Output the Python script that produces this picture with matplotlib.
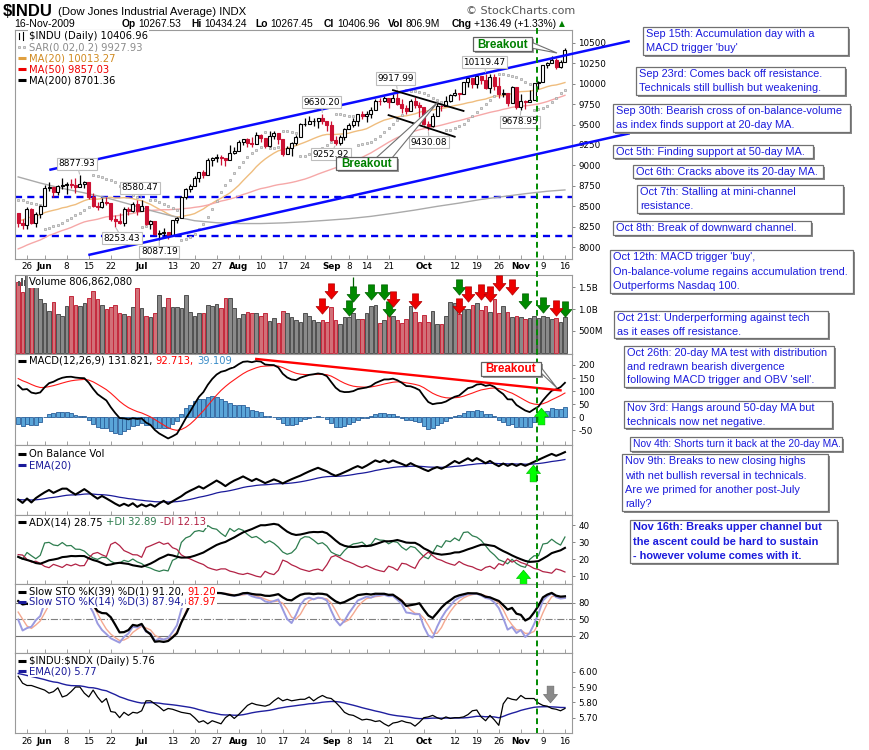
import numpy as np
import pandas as pd
import matplotlib
matplotlib.use("Agg")
import matplotlib.pyplot as plt
from matplotlib.path import Path
from matplotlib.patches import Rectangle, Polygon
from matplotlib.lines import Line2D
from matplotlib import transforms as mtransforms

# ------------------------------------------------------------------ data
holidays = ["2009-05-25", "2009-07-03", "2009-09-07"]

# closes of the sessions before the visible window (feed the moving averages / MACD)
prior_closes = [7170, 7224, 7216, 7395, 7486, 7400, 7278, 7776, 7660, 7749, 7924, 7776, 7522, 7609,
                7761, 7978, 8018, 7975, 7789, 7837, 8083, 8058, 7920, 8029, 8125, 8131, 7842, 7969,
                7887, 7957, 8076, 8025, 8016, 8185, 8168,
                8212, 8426, 8410, 8512, 8409, 8575, 8418, 8469, 8284, 8331, 8268, 8504, 8474, 8422]

opens = [8422, 8293, 8277, 8473, 8300, 8403,
         8500, 8721, 8741, 8675, 8750, 8764, 8764, 8763, 8739, 8770, 8799, 8612, 8504, 8497, 8555, 8539, 8340, 8323, 8299, 8472, 8438, 8529,
         8447, 8504, 8280, 8324, 8163, 8178, 8183, 8146, 8331, 8359, 8616, 8711, 8743, 8848, 8915, 8882, 9069, 9093, 9108, 9096, 9070, 9154,
         9171, 9286, 9320, 9280, 9256, 9370, 9338, 9241, 9362, 9398, 9321, 9135, 9217, 9279, 9350, 9505, 9509, 9540, 9543, 9580, 9544,
         9496, 9310, 9280, 9344, 9441, 9497, 9547, 9627, 9605, 9626, 9683, 9791, 9784, 9820, 9778, 9829, 9748, 9707, 9665, 9789, 9742,
         9712, 9509, 9487, 9599, 9731, 9725, 9786, 9865, 9885, 9871, 10015, 10063, 9996, 10092, 10041, 9949, 10081, 9972, 9868, 9882, 9762, 9962,
         9713, 9789, 9772, 9802, 10005, 10023, 10227, 10247, 10292, 10197, 10267.53]

highs = [8425, 8346, 8495, 8483, 8437, 8518,
         8757, 8800, 8741, 8766, 8847, 8795, 8830, 8843, 8877.93, 8808, 8799, 8660, 8548, 8599, 8614, 8539, 8391, 8420, 8494, 8497, 8550, 8577,
         8580.47, 8504, 8332, 8324, 8208, 8237, 8183, 8336, 8374, 8624, 8720, 8770, 8866, 8920, 8946, 9096, 9109, 9134, 9133, 9096, 9246, 9228,
         9310, 9320, 9341, 9350, 9414, 9386, 9338, 9417, 9421, 9398, 9321, 9235, 9292, 9370, 9520, 9580, 9608, 9580, 9581, 9630.20, 9544,
         9543, 9358, 9368, 9459, 9523, 9580, 9628, 9670, 9661, 9713, 9815, 9829, 9849, 9820, 9870, 9917.99, 9810, 9737, 9814, 9838, 9778,
         9712, 9541, 9645, 9773, 9743, 9852, 9870, 9933, 9887, 10020, 10063, 10063, 10099, 10096, 10119.47, 10112, 10115, 10083, 9938, 9882, 9974, 9962,
         9876, 9795, 9920, 10010, 10030, 10230, 10260, 10335, 10310, 10290, 10434.24]

lows = [8244, 8222, 8224, 8290, 8242, 8355,
        8500, 8683, 8618, 8643, 8710, 8646, 8719, 8667, 8737, 8719, 8585, 8494, 8459, 8477, 8520, 8320, 8253.43, 8280, 8263, 8400, 8436, 8398,
        8447, 8271, 8220, 8146, 8087.19, 8142, 8105, 8146, 8300, 8359, 8585, 8680, 8743, 8802, 8843, 8880, 8994, 9041, 9010, 8996, 9070, 9138,
        9171, 9247, 9221, 9226, 9256, 9291, 9219, 9229, 9320, 9258, 9117, 9135, 9111, 9247, 9350, 9480, 9509, 9480, 9454, 9502, 9423,
        9293, 9252.92, 9254, 9315, 9441, 9470, 9488, 9568, 9527, 9578, 9683, 9733, 9776, 9706, 9778, 9733, 9635, 9623, 9665, 9706, 9590,
        9497, 9430.08, 9470, 9599, 9664, 9725, 9777, 9854, 9800, 9871, 9958, 9951, 9951, 9993, 9936, 9890, 9925, 9825, 9833, 9730, 9762, 9684,
        9678.95, 9689, 9770, 9802, 9940, 10023, 10190, 10247, 10180, 10190, 10267.45]

closes = [8293, 8277, 8473, 8300, 8403, 8500,
          8721, 8741, 8675, 8750, 8764, 8764, 8763, 8739, 8770, 8799, 8612, 8504, 8497, 8555, 8539, 8340, 8323, 8299, 8472, 8438, 8529, 8447,
          8504, 8280, 8324, 8163, 8178, 8183, 8146, 8331, 8359, 8616, 8711, 8743, 8848, 8915, 8882, 9069, 9093, 9108, 9096, 9070, 9154, 9171,
          9286, 9320, 9280, 9256, 9370, 9338, 9241, 9362, 9398, 9321, 9135, 9217, 9279, 9350, 9505, 9509, 9540, 9543, 9580, 9544, 9496,
          9310, 9280, 9344, 9441, 9497, 9547, 9627, 9605, 9626, 9683, 9791, 9784, 9820, 9778, 9829, 9748, 9707, 9665, 9789, 9742, 9712,
          9509, 9487, 9599, 9731, 9725, 9786, 9865, 9885, 9871, 10015, 10063, 9996, 10092, 10041, 9949, 10081, 9972, 9868, 9882, 9762, 9962, 9713,
          9789, 9772, 9802, 10005, 10023, 10227, 10247, 10292, 10197, 10270, 10406.96]

volume_bn = [1.62, 1.38, 1.78, 1.60, 1.75, 1.22, 1.13, 0.96, 1.17, 0.88,
             0.84, 1.07, 1.30, 1.09, 1.07, 1.13, 1.24, 1.42, 1.22, 1.09,
             0.99, 1.04, 1.09, 0.92, 0.88, 0.84, 1.04, 1.47, 1.02, 0.83,
             0.81, 0.90, 1.32, 1.04, 1.26, 1.05, 1.05, 1.02, 1.32, 0.94,
             0.84, 0.92, 0.90, 1.09, 1.07, 1.11, 1.03, 1.24, 1.24, 1.02,
             0.79, 0.89, 0.94, 0.92, 0.90, 0.84, 0.92, 0.73, 0.79, 0.69,
             0.96, 0.90, 0.81, 0.75, 0.71, 0.90, 0.83, 0.75, 0.71, 0.75,
             0.71, 1.05, 0.75, 0.66, 0.81, 0.81, 0.90, 0.77, 0.77, 0.92,
             1.07, 1.09, 0.68, 0.75, 0.90, 0.83, 0.75, 0.68, 0.77, 1.07,
             0.94, 0.71, 0.86, 0.71, 0.96, 0.66, 0.66, 0.84, 1.17, 1.14,
             0.89, 0.99, 0.99, 1.09, 1.14, 0.98, 1.07, 0.94, 1.22, 0.92,
             1.07, 0.94, 0.81, 0.83, 0.81, 0.77, 0.79, 0.85, 0.80, 0.83,
             0.81, 0.77, 0.79, 0.70, 0.81]

indu_ndx_ratio = [5.97, 5.925, 5.91, 5.91, 5.90, 5.89, 5.88, 5.86, 5.87, 5.895,
                  5.835, 5.845, 5.87, 5.90, 5.90, 5.86, 5.835, 5.88, 5.835, 5.80,
                  5.825, 5.74, 5.735, 5.70, 5.735, 5.715, 5.735, 5.73, 5.745, 5.81,
                  5.81, 5.79, 5.77, 5.745, 5.76, 5.755, 5.745, 5.735, 5.73, 5.725,
                  5.70, 5.67, 5.68, 5.66, 5.68, 5.67, 5.66, 5.70, 5.72, 5.695,
                  5.72, 5.75, 5.78, 5.795, 5.785, 5.78, 5.775, 5.785, 5.81, 5.83,
                  5.81, 5.82, 5.81, 5.815, 5.82, 5.82, 5.835, 5.81, 5.83, 5.845,
                  5.83, 5.825, 5.80, 5.77, 5.735, 5.72, 5.715, 5.70, 5.685, 5.69,
                  5.685, 5.675, 5.68, 5.66, 5.645, 5.665, 5.67, 5.68, 5.67, 5.665,
                  5.645, 5.67, 5.70, 5.705, 5.715, 5.70, 5.69, 5.705, 5.695, 5.70,
                  5.70, 5.705, 5.72, 5.745, 5.75, 5.705, 5.68, 5.715, 5.685, 5.65,
                  5.79, 5.83, 5.82, 5.815, 5.845, 5.825, 5.825, 5.825, 5.795, 5.78,
                  5.775, 5.76, 5.755, 5.745, 5.76]
ratio_ema_start = 5.99

# 200-day MA read every 5th session (plus the last one)
ma200_every5 = [8860, 8785, 8720, 8665, 8605, 8530, 8450, 8380, 8325, 8300, 8290, 8290, 8298,
                8312, 8330, 8350, 8378, 8415, 8455, 8500, 8540, 8585, 8620, 8655, 8685, 8701]

adx_start = {"atr": 165.0, "pdi": 21.0, "ndi": 22.6, "adx": 21.3}
# starting state of the parabolic SAR (downtrend at the left edge)
sar_start = {"trend": -1, "sar": 8580.0, "ep": 8244.0, "af": 0.02}

tick_dates = ["2009-05-26", "2009-06-01", "2009-06-08", "2009-06-15", "2009-06-22", "2009-07-01", "2009-07-13",
              "2009-07-20", "2009-07-27", "2009-08-03", "2009-08-10", "2009-08-17", "2009-08-24", "2009-09-01",
              "2009-09-08", "2009-09-14", "2009-09-21", "2009-10-01", "2009-10-12", "2009-10-19", "2009-10-26",
              "2009-11-02", "2009-11-09", "2009-11-16"]
tick_labels = ["26", "Jun", "8", "15", "22", "Jul", "13", "20", "27", "Aug", "10", "17", "24", "Sep",
               "8", "14", "21", "Oct", "12", "19", "26", "Nov", "9", "16"]

swing_dates = ["2009-06-11", "2009-07-01", "2009-06-23", "2009-07-08", "2009-08-28", "2009-09-02",
               "2009-09-23", "2009-10-02", "2009-10-21", "2009-11-02"]
swing_values = [8877.93, 8580.47, 8253.43, 8087.19, 9630.20, 9252.92, 9917.99, 9430.08, 10119.47, 9678.95]
swing_is_high = [True, True, False, False, True, False, True, False, True, False]

red_arrow_dates = ["2009-08-28", "2009-09-01", "2009-09-22", "2009-09-29", "2009-10-13", "2009-10-15",
                   "2009-10-20", "2009-10-22", "2009-10-26", "2009-10-29", "2009-11-12"]
red_arrow_level_bn = [1.06, 1.42, 1.22, 1.19, 1.06, 1.33, 1.38, 1.33, 1.60, 1.49, 1.03]
green_arrow_dates = ["2009-09-08", "2009-09-09", "2009-09-15", "2009-09-18", "2009-09-21", "2009-10-13",
                     "2009-11-03", "2009-11-09", "2009-11-16"]
green_arrow_level_bn = [1.03, 1.33, 1.38, 1.38, 0.99, 1.49, 1.19, 1.08, 1.01]

# trend lines (date, price) anchors
upper_channel = [("2009-06-02", 8945), ("2009-10-21", 10129)]
lower_channel = [("2009-06-15", 7907), ("2009-10-21", 8997)]
support_levels = [8615, 8140]
mini_channel_top = [("2009-09-22", 9920), ("2009-10-14", 9666)]
mini_channel_bottom = [("2009-09-21", 9615), ("2009-10-12", 9351)]
macd_trend = [("2009-08-07", 223), ("2009-11-13", 103)]

notes = [
    ["Sep 15th: Accumulation day with a", "MACD trigger 'buy'"],
    ["Sep 23rd: Comes back off resistance.", "Technicals still bullish but weakening."],
    ["Sep 30th: Bearish cross of on-balance-volume", "as index finds support at 20-day MA."],
    ["Oct 5th: Finding support at 50-day MA."],
    ["Oct 6th: Cracks above its 20-day MA."],
    ["Oct 7th: Stalling at mini-channel", "resistance."],
    ["Oct 8th: Break of downward channel."],
    ["Oct 12th: MACD trigger 'buy',", "On-balance-volume regains accumulation trend.", "Outperforms Nasdaq 100."],
    ["Oct 21st: Underperforming against tech", "as it eases off resistance."],
    ["Oct 26th: 20-day MA test with distribution", "and redrawn bearish divergence",
     "following MACD trigger and OBV 'sell'."],
    ["Nov 3rd: Hangs around 50-day MA but", "technicals now net negative."],
    ["Nov 4th: Shorts turn it back at the 20-day MA."],
    ["Nov 9th: Breaks to new closing highs", "with net bullish reversal in technicals.",
     "Are we primed for another post-July", "rally?"],
    ["Nov 16th: Breaks upper channel but", "the ascent could be hard to sustain",
     "- however volume comes with it."],
]

# ------------------------------------------------------------------ derived series
trade_dates = [d for d in pd.bdate_range("2009-05-21", "2009-11-16")
               if d.strftime("%Y-%m-%d") not in holidays]
n = len(trade_dates)
for arr in (opens, highs, lows, closes, volume_bn, indu_ndx_ratio):
    assert len(arr) == n, len(arr)
day = {d.strftime("%Y-%m-%d"): i for i, d in enumerate(trade_dates)}
x = np.arange(n)
o, h, l, c = (np.array(v, float) for v in (opens, highs, lows, closes))
vol = np.array(volume_bn) * 1e9
npre = len(prior_closes)

all_c = pd.Series(prior_closes + closes, dtype=float)
all_h = pd.Series(prior_closes + highs, dtype=float)
all_l = pd.Series(prior_closes + lows, dtype=float)
ma20 = all_c.rolling(20).mean().values[npre:]
ma50 = all_c.rolling(50).mean().values[npre:]
ema12 = all_c.ewm(span=12, adjust=False).mean()
ema26 = all_c.ewm(span=26, adjust=False).mean()
macd_all = ema12 - ema26
sig_all = macd_all.ewm(span=9, adjust=False).mean()
macd = macd_all.values[npre:]
signal = sig_all.values[npre:]
hist = macd - signal


def fast_k(p):
    ll = all_l.rolling(p, min_periods=1).min()
    hh = all_h.rolling(p, min_periods=1).max()
    return 100 * (all_c - ll) / (hh - ll)


k39 = fast_k(39).rolling(3).mean().values[npre:]
k14s = fast_k(14).rolling(3).mean()
d14 = k14s.rolling(3).mean().values[npre:]
k14 = k14s.values[npre:]

prev_c = np.r_[prior_closes[-1], c[:-1]]
down = c < prev_c
obv = np.cumsum(np.where(c > prev_c, vol, np.where(c < prev_c, -vol, 0.0)))
obv_ema = pd.Series(obv).ewm(span=20, adjust=False).mean().values

ratio = np.array(indu_ndx_ratio)
ratio_ema = []
e = ratio_ema_start
for v in ratio:
    e = e + (v - e) * 2 / 21
    ratio_ema.append(e)

# ADX / DMI (Wilder)
atr = adx_start["atr"]
pdm = adx_start["pdi"] / 100 * atr
ndm = adx_start["ndi"] / 100 * atr
adx_v = adx_start["adx"]
pdi_l, ndi_l, adx_l = [adx_start["pdi"]], [adx_start["ndi"]], [adx_v]
for i in range(1, n):
    up = h[i] - h[i - 1]
    dn = l[i - 1] - l[i]
    p = up if (up > dn and up > 0) else 0.0
    m = dn if (dn > up and dn > 0) else 0.0
    tr = max(h[i] - l[i], abs(h[i] - c[i - 1]), abs(l[i] - c[i - 1]))
    atr += (tr - atr) / 14
    pdm += (p - pdm) / 14
    ndm += (m - ndm) / 14
    pdi = 100 * pdm / atr
    ndi = 100 * ndm / atr
    dx = 100 * abs(pdi - ndi) / (pdi + ndi) if pdi + ndi > 0 else 0
    adx_v += (dx - adx_v) / 14
    pdi_l.append(pdi); ndi_l.append(ndi); adx_l.append(adx_v)

# Parabolic SAR
trend, sar, ep, af = sar_start["trend"], sar_start["sar"], sar_start["ep"], sar_start["af"]
sar_l = [sar]
for i in range(1, n):
    sar = sar + af * (ep - sar)
    if trend > 0:
        sar = min(sar, l[i - 1], l[i - 2] if i >= 2 else l[i - 1])
        if l[i] < sar:
            trend, sar, ep, af = -1, ep, l[i], 0.02
        elif h[i] > ep:
            ep, af = h[i], min(af + 0.02, 0.2)
    else:
        sar = max(sar, h[i - 1], h[i - 2] if i >= 2 else h[i - 1])
        if h[i] > sar:
            trend, sar, ep, af = 1, ep, h[i], 0.02
        elif l[i] < ep:
            ep, af = l[i], min(af + 0.02, 0.2)
    sar_l.append(sar)

# ------------------------------------------------------------------ figure
W, H = 870, 750
fig = plt.figure(figsize=(W / 100, H / 100), dpi=100)
fig.patch.set_facecolor("white")
rend = fig.canvas.get_renderer()


def fx(px):
    return px / W


def fy(py):
    return 1 - py / H


XMIN, XMAX = -0.72, 125.6
PL, PR = 15, 572
CRED = "#cc1133"
FRAME = "#9a9a9a"
tick_pos = [day[d] for d in tick_dates]


def make_ax(top, bottom, ylim):
    ax = fig.add_axes([fx(PL), fy(bottom), (PR - PL) / W, (bottom - top) / H])
    ax.set_xlim(XMIN, XMAX)
    ax.set_ylim(*ylim)
    for s in ax.spines.values():
        s.set_color(FRAME)
        s.set_linewidth(0.8)
    ax.yaxis.tick_right()
    ax.tick_params(axis="y", direction="out", length=2.5, width=0.6, color="#707070",
                   labelsize=6.3, pad=2)
    ax.set_xticks(tick_pos)
    ax.tick_params(axis="x", direction="in", length=3, width=0.6, color="#909090",
                   labelbottom=False, labelsize=6.3, pad=2.5)
    for t in ax.get_yticklabels():
        t.set_family("DejaVu Sans")
    return ax


def xlabels(ax, pad):
    ax.tick_params(axis="x", labelbottom=True, pad=pad)
    ax.set_xticklabels(tick_labels)
    for t in ax.get_xticklabels():
        t.set_family("DejaVu Sans")
        if t.get_text().isalpha():
            t.set_fontweight("bold")


# -------------------------------- price panel
axp = make_ax(30, 259, (7857, 10655))
axp.set_yticks(np.arange(8000, 10501, 250))
axp.set_yticklabels([str(v) for v in range(8000, 10501, 250)])
xlabels(axp, 2.2)

for lvl in support_levels:
    axp.axhline(lvl, color="#0000ee", lw=1.7, ls=(0, (3, 2.2)), zorder=2)
axp.plot(x, ma20, color="#efbd7e", lw=1.0, zorder=2)
axp.plot(x, ma50, color="#f6a8a8", lw=1.0, zorder=2)
axp.plot(x[list(range(0, n, 5)) + [n - 1]], ma200_every5, color="#aaaaaa", lw=1.0, zorder=2)
axp.plot(x, sar_l, ls="none", marker="s", ms=1.9, mfc="#dcdcdc", mec="#a0a0a0", mew=0.5, zorder=2.5)

edge_cols = np.where(down, CRED, "black")
axp.vlines(x, l, h, colors=edge_cols, lw=0.9, zorder=3)
face_cols = ["white" if c[i] >= o[i] else edge_cols[i] for i in range(n)]
body_lo = np.minimum(o, c)
body_h = np.maximum(np.abs(c - o), 6)
axp.bar(x, body_h, bottom=body_lo, width=0.68, color=face_cols, edgecolor=edge_cols,
        linewidth=0.8, zorder=4)


def line_from(anchors, ax, x_end=None, x_start=None, **kw):
    (d0, p0), (d1, p1) = anchors
    i0, i1 = day[d0], day[d1]
    slope = (p1 - p0) / (i1 - i0)
    xs = i0 if x_start is None else x_start
    xe = i1 if x_end is None else x_end
    ax.plot([xs, xe], [p0 + slope * (xs - i0), p0 + slope * (xe - i0)], **kw)


line_from(upper_channel, axp, x_end=138.7, x_start=7.06, color="#0a0aff", lw=1.8,
          clip_on=False, zorder=6, solid_capstyle="butt")
line_from(lower_channel, axp, x_end=138.7, x_start=15.9, color="#0a0aff", lw=1.8,
          clip_on=False, zorder=6, solid_capstyle="butt")
line_from(mini_channel_top, axp, color="black", lw=1.3, zorder=6)
line_from(mini_channel_bottom, axp, color="black", lw=1.3, zorder=6)

swing_dx_px = [-3, -2, 7, 0, -1, -5, -2, 1, -1, -1]
swing_dy_pt = [8.5, 8.5, -8.5, -8.5, 8.5, -6.8, 8.5, -8.5, 8.5, -8.5]
for d, v, dxp, dyp in zip(swing_dates, swing_values, swing_dx_px, swing_dy_pt):
    axp.annotate(f"{v:.2f}", xy=(day[d], v), xytext=(dxp * 0.72, dyp),
                 textcoords="offset points", ha="center", va="center", fontsize=6.4,
                 family="DejaVu Sans", zorder=8,
                 bbox=dict(boxstyle="square,pad=0.18", fc="white", ec="#bdbdbd", lw=0.8),
                 arrowprops=dict(arrowstyle="-", color="#bdbdbd", lw=0.8, shrinkA=0, shrinkB=1))

# -------------------------------- volume panel
axv = make_ax(275, 354, (-0.023e9, 1.773e9))
axv.set_yticks([0.5e9, 1.0e9, 1.5e9])
axv.set_yticklabels(["500M", "1.0B", "1.5B"])
axv.bar(x, vol, width=0.82, color=np.where(down, "#d27078", "#8a8a8a"),
        edgecolor=np.where(down, "#c4283c", "#505050"), linewidth=0.7, zorder=2)

down_arrow = Path([(-0.2, 0.5), (0.2, 0.5), (0.2, 0.0), (0.42, 0.0), (0, -0.5), (-0.42, 0.0),
                   (-0.2, 0.0), (-0.2, 0.5)], closed=True)
up_arrow = Path([(-0.2, -0.5), (0.2, -0.5), (0.2, 0.0), (0.42, 0.0), (0, 0.5), (-0.42, 0.0),
                 (-0.2, 0.0), (-0.2, -0.5)], closed=True)
axv.plot([day[d] for d in green_arrow_dates], np.array(green_arrow_level_bn) * 1e9, ls="none",
         marker=down_arrow, ms=11, mfc="#008a00", mec="#006000", mew=0.5, zorder=5, clip_on=False)
axv.plot([day[d] for d in red_arrow_dates], np.array(red_arrow_level_bn) * 1e9, ls="none",
         marker=down_arrow, ms=11, mfc="#ee0000", mec="#b00000", mew=0.5, zorder=5, clip_on=False)
axv.vlines(day["2009-09-09"], 1.50e9, 1.72e9, color="#006000", lw=0.9, zorder=5)

# -------------------------------- MACD panel
axm = make_ax(354, 445, (-106, 242))
axm.set_yticks([-50, 0, 50, 100, 150, 200])
axm.set_yticklabels(["-50", "0", "50", "100", "150", "200"])
axm.bar(x, hist, width=0.9, color="#5aa5d8", edgecolor="#2a5f9a", linewidth=0.6, zorder=2)
axm.plot(x, signal, color="#ff1a1a", lw=0.8, zorder=3)
axm.plot(x, macd, color="black", lw=1.3, zorder=4)
line_from(macd_trend, axm, color="#ff0000", lw=1.7, zorder=5)
axm.plot([118.6], [4], ls="none", marker=up_arrow, ms=12, mfc="#00ff00", mec="#00c000", mew=0.5,
         zorder=6)

# -------------------------------- OBV panel
axo = make_ax(445, 515, (0, 1))
lo_, hi_ = obv.min(), obv.max()
span = hi_ - lo_
axo.set_ylim(lo_ - 8 / 54 * span, hi_ + 7 / 54 * span)
axo.set_yticks([])
axo.plot(x, obv_ema, color="#1a1a9a", lw=0.9, zorder=2)
axo.plot(x, obv, color="black", lw=1.5, zorder=3)
axo.plot([116.7], [lo_ + (hi_ - lo_) * 0.62], ls="none", marker=up_arrow, ms=12, mfc="#00ff00",
         mec="#00c000", mew=0.5, zorder=6)

# -------------------------------- ADX panel
axa = make_ax(515, 584, (5.3, 45.9))
axa.set_yticks([10, 20, 30, 40])
axa.set_yticklabels(["10", "20", "30", "40"])
axa.plot(x, pdi_l, color="#2e7d4f", lw=0.9, zorder=2)
axa.plot(x, ndi_l, color="#b22245", lw=0.9, zorder=2)
axa.plot(x, adx_l, color="black", lw=1.5, zorder=3)
axa.plot([114.5], [9.0], ls="none", marker=up_arrow, ms=12, mfc="#00ff00", mec="#00c000", mew=0.5,
         zorder=6, clip_on=False)

# -------------------------------- Stochastics panel
axs = make_ax(584, 653, (-11.5, 114))
axs.set_yticks([20, 50, 80])
axs.set_yticklabels(["20", "50", "80"])
axs.axhline(80, color="#707070", lw=0.8, zorder=1)
axs.axhline(20, color="#707070", lw=0.8, zorder=1)
axs.axhline(50, color="#808080", lw=0.8, ls="-.", zorder=1)
axs.plot(x, d14, color="#f4a890", lw=1.0, zorder=2)
axs.plot(x, k14, color="#9a9ae0", lw=1.4, zorder=2)
axs.plot(x, k39, color="black", lw=1.6, zorder=3)

# -------------------------------- ratio panel
axr = make_ax(653, 733, (5.60, 6.122))
axr.set_yticks([5.70, 5.80, 5.90, 6.00])
axr.set_yticklabels(["5.70", "5.80", "5.90", "6.00"])
axr.plot(x, ratio_ema, color="#1f1f9f", lw=1.0, zorder=2)
axr.plot(x, ratio, color="black", lw=0.9, zorder=3)
axr.plot([120.6], [5.855], ls="none", marker=down_arrow, ms=12, mfc="#8a8a8a", mec="#707070",
         mew=0.5, zorder=6)
xlabels(axr, 3.0)

# -------------------------------- green dashed vertical signal line
blend = mtransforms.blended_transform_factory(axp.transData, fig.transFigure)
fig.add_artist(Line2D([117.6, 117.6], [fy(28), fy(733)], transform=blend, color="#008a00",
                      lw=1.4, ls=(0, (3, 2)), zorder=7))


# -------------------------------- texts
def seq(xp, yp, parts, size=7.2, family="DejaVu Sans", bg="white", gap=3.5, z=9):
    for s, col, bold in parts:
        t = fig.text(fx(xp), fy(yp), s, color=col, fontsize=size,
                     fontweight="bold" if bold else "normal", family=family,
                     ha="left", va="center", zorder=z)
        if bg:
            t.set_bbox(dict(facecolor=bg, edgecolor="none", pad=0.8))
        xp += t.get_window_extent(renderer=rend).width + gap
    return xp


def swatch(yp, color, x0=18, x1=26, lw=2.2):
    fig.add_artist(Line2D([fx(x0), fx(x1)], [fy(yp), fy(yp)], color=color, lw=lw, zorder=10,
                          solid_capstyle="butt"))


# header
fig.text(fx(3), fy(11), "$INDU", fontsize=12, fontweight="bold", family="Liberation Sans",
         ha="left", va="center")
fig.text(fx(58), fy(12), "(Dow Jones Industrial Average) INDX", fontsize=8.2,
         family="Liberation Sans", ha="left", va="center")
fig.text(fx(575), fy(11), "© StockCharts.com", fontsize=8.0, family="DejaVu Sans",
         color="#555555", ha="right", va="center")
fig.text(fx(14), fy(24), "16-Nov-2009", fontsize=7.6, family="Liberation Sans", ha="left",
         va="center")
hdr = [("Op", "10267.53", 122), ("Hi", "10434.24", 191), ("Lo", "10267.45", 255),
       ("Cl", "10406.96", 324), ("Vol", "806.9M", 388), ("Chg", "+136.49 (+1.33%)", 452)]
end_x = 0
for k, v, xp in hdr:
    end_x = seq(xp, 24, [(k, "black", True), (v, "black", False)], size=7.4,
                family="Liberation Sans", bg=None, gap=2.5)
fig.text(fx(end_x), fy(24), "▲", fontsize=5.5, family="DejaVu Sans", color="#008000",
         ha="left", va="center")

# price legend
seq(29, 36, [("$INDU (Daily) 10406.96", "black", False)])
fig.add_artist(Line2D([fx(19), fx(24)], [fy(47.3), fy(47.3)], ls="none", marker="s", ms=2.0,
                      mfc="#dcdcdc", mec="#a0a0a0", mew=0.5, zorder=10))
fig.add_artist(Line2D([fx(19.5), fx(19.5)], [fy(33), fy(39)], color="black", lw=0.8, zorder=10))
fig.add_artist(Line2D([fx(23.5), fx(23.5)], [fy(32), fy(40)], color="black", lw=0.8, zorder=10))
seq(29, 47.3, [("SAR(0.02,0.2) 9927.93", "#8c8c8c", False)])
swatch(58.3, "#e0a040")
seq(29, 58.3, [("MA(20) 10013.27", "#d08a20", False)])
swatch(69.3, "#ee0000")
seq(29, 69.3, [("MA(50) 9857.03", "#ee0000", False)])
swatch(80.3, "black")
seq(29, 80.3, [("MA(200) 8701.36", "black", False)])

# volume legend
for bx, bh in ((18, 5), (21, 8), (24, 6)):
    fig.add_artist(Rectangle((fx(bx), fy(286)), 2 / W, bh / H, transform=fig.transFigure,
                             fc="#555555", ec="none", zorder=10))
seq(29, 281.7, [("Volume 806,862,080", "black", False)])

# MACD legend
swatch(360.7, "black")
seq(29, 360.7, [("MACD(12,26,9) 131.821,", "black", False), ("92.713,", "#ff0000", False),
                ("39.109", "#3a8cc8", False)])
# OBV legend
swatch(454, "black")
seq(29, 454, [("On Balance Vol", "black", False)])
swatch(465, "#1a1a9a")
seq(29, 465, [("EMA(20)", "#1a1a9a", False)])
# ADX legend
swatch(522.3, "black")
seq(29, 522.3, [("ADX(14) 28.75", "black", False), ("+DI 32.89", "#2e7d4f", False),
                ("-DI 12.13", "#b22245", False)])
# Stoch legend
swatch(591.7, "black")
seq(29, 591.7, [("Slow STO %K(39) %D(1) 91.20,", "black", False), ("91.20", "#ff0000", False)])
swatch(601.7, "#1a1a9a")
seq(29, 601.7, [("Slow STO %K(14) %D(3) 87.94,", "#1a1a9a", False), ("87.97", "#ff0000", False)])
# ratio legend
swatch(660.7, "black")
seq(29, 660.7, [(r"\$INDU:\$NDX (Daily) 5.76", "black", False)])
swatch(671, "#1a1a9a")
seq(29, 671, [("EMA(20) 5.77", "#1a1a9a", False)])


# callouts
def box(x0, y0, x1, y1, z=11, ec="#606060", shadow="#9a9a9a"):
    fig.add_artist(Rectangle((fx(x0 + 2), fy(y1 + 2)), (x1 - x0) / W, (y1 - y0) / H,
                             transform=fig.transFigure, fc=shadow, ec="none", zorder=z))
    fig.add_artist(Rectangle((fx(x0), fy(y1)), (x1 - x0) / W, (y1 - y0) / H,
                             transform=fig.transFigure, fc="white", ec=ec, lw=0.9, zorder=z + 0.2))


def pointer(pts, z=11.1):
    fig.add_artist(Polygon([(fx(a), fy(b)) for a, b in pts], closed=True,
                           transform=fig.transFigure, fc="white", ec="#707070", lw=0.8, zorder=z))


def callout(x0, y0, x1, y1, text, color, ptr):
    pointer(ptr)
    box(x0, y0, x1, y1)
    fig.text(fx((x0 + x1) / 2), fy((y0 + y1) / 2 + 0.5), text, color=color, fontsize=8.4,
             fontweight="bold", family="Liberation Sans", ha="center", va="center", zorder=12)


callout(473, 37, 532, 51, "Breakout", "#008000", [(531, 42), (531, 48), (557, 53)])
callout(336, 157, 397, 170, "Breakout", "#008000", [(376, 158), (392, 158), (438, 102)])
callout(481, 362, 541, 376, "Breakout", "#ff0000", [(540, 366), (540, 372), (557, 388)])

# right-hand notes
note_boxes = [(643, 27, 848, 55), (636, 67, 845, 95), (613, 104, 850, 132), (613, 145, 813, 158),
              (633, 165, 823, 178), (637, 185, 843, 213), (613, 221, 811, 235), (610, 250, 853, 293),
              (614, 311, 828, 338), (624, 346, 834, 387), (624, 401, 832, 428), (630, 437, 842, 451),
              (622, 454, 828, 511), (630, 520, 837, 563)]
for k, (lines, (x0, y0, x1, y1)) in enumerate(zip(notes, note_boxes)):
    box(x0, y0, x1, y1, z=3, ec="#707070", shadow="#8a8a8a")
    bold = k == len(notes) - 1
    step = (y1 - y0) / len(lines)
    for j, ln in enumerate(lines):
        t = fig.text(fx(x0 + 3), fy(y0 + step * (j + 0.5) + 0.3), ln, color="#1c1cdc",
                     fontsize=7.9, fontweight="bold" if bold else "normal",
                     family="Liberation Sans", ha="left", va="center", zorder=4)
        wpx = t.get_window_extent(renderer=rend).width
        if wpx > (x1 - x0) - 4:
            t.set_fontsize(7.9 * ((x1 - x0) - 5) / wpx)

fig.savefig("out.png", dpi=100)
